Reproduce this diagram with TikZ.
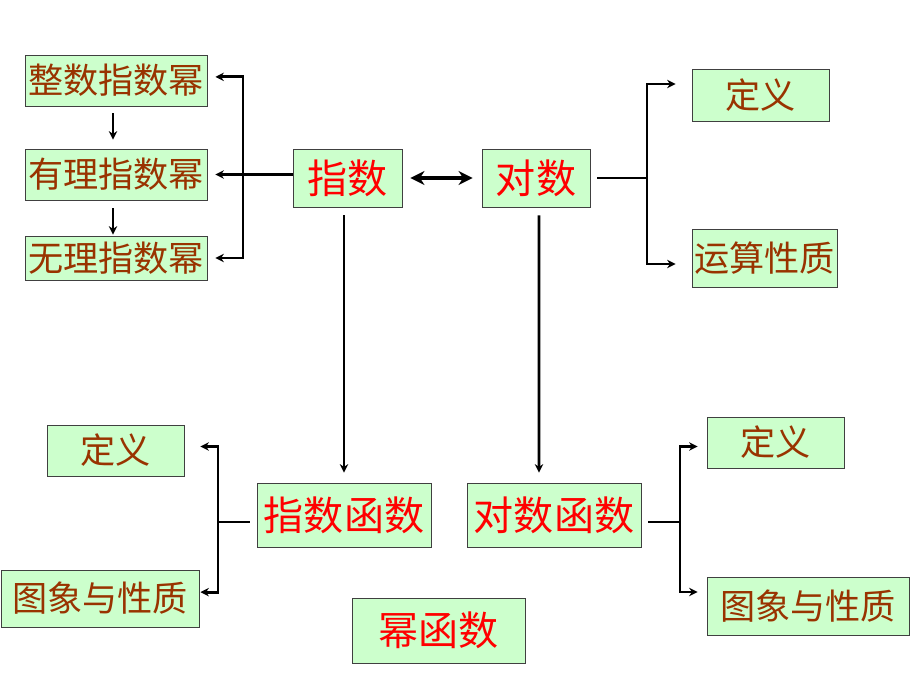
\documentclass[tikz,border=0pt]{standalone}
\usepackage{fontspec}
\usetikzlibrary{arrows.meta}
\newfontfamily\cjk{Noto Sans CJK SC}
\definecolor{boxgreen}{HTML}{CCFFCC}
\definecolor{textbrown}{HTML}{993300}
\tikzset{
  box/.style={draw=black!75, fill=boxgreen, inner sep=0pt, line width=0.6pt},
  bbox/.style={box, text=textbrown, font=\cjk\fontsize{25}{25}\selectfont},
  rbox/.style={box, text=red, font=\cjk\fontsize{28.5}{28.5}\selectfont},
  link/.style={line width=2pt},
  arr/.style={link, -{Stealth[length=6pt, width=6pt]}},
}
\begin{document}
\begin{tikzpicture}[x=0.025cm, y=-0.025cm]
\useasboundingbox (0,0) rectangle (920,690);

% Exponent powers on the left
\node[bbox, minimum width=4.55cm, minimum height=1.275cm] (zs1) at (116,80.5) {整数指数幂};
\node[bbox, minimum width=4.55cm, minimum height=1.275cm] (zs2) at (116,174.5) {有理指数幂};
\node[bbox, minimum width=4.55cm, minimum height=1.1cm] (zs3) at (116,258) {无理指数幂};

% Exponent and logarithm
\node[rbox, minimum width=2.725cm, minimum height=1.45cm] (zhishu) at (347.5,178) {指数};
\node[rbox, minimum width=2.7cm, minimum height=1.45cm] (duishu) at (536,178) {对数};

% Logarithm branches
\node[bbox, minimum width=3.425cm, minimum height=1.3cm] (dy1) at (760.5,95) {定义};
\node[bbox, minimum width=3.625cm, minimum height=1.45cm] (ys) at (764.5,258) {运算性质};

% The two functions
\node[rbox, minimum width=4.35cm, minimum height=1.6cm] (zsfun) at (344,515) {指数函数};
\node[rbox, minimum width=4.35cm, minimum height=1.6cm] (dsfun) at (554,515) {对数函数};
\node[rbox, minimum width=4.325cm, minimum height=1.625cm] (mfun) at (438.5,630.5) {幂函数};

% Branches of the exponential function
\node[bbox, minimum width=3.425cm, minimum height=1.275cm] (dyL) at (115.5,450.5) {定义};
\node[bbox, minimum width=4.95cm, minimum height=1.425cm] (txL) at (100,598.5) {图象与性质};

% Branches of the logarithmic function
\node[bbox, minimum width=3.425cm, minimum height=1.275cm] (dyR) at (775.5,442.5) {定义};
\node[bbox, minimum width=5.05cm, minimum height=1.45cm] (txR) at (808,606) {图象与性质};

% Down arrows between the powers
\draw[arr, shorten <=0.175cm, shorten >=0.225cm] ([xshift=-0.075cm]zs1.south) -- ([xshift=-0.075cm]zs2.north);
\draw[arr, shorten <=0.2cm, shorten >=0.025cm] ([xshift=-0.075cm]zs2.south) -- ([xshift=-0.075cm]zs3.north);

% Bracket from the exponent to the powers
\coordinate (jL) at (243,174.5);
\draw[arr, shorten >=0.2cm] (zhishu.west |- zs2.east) -- (zs2.east);
\draw[arr, shorten >=0.2cm] (jL) |- ([yshift=0.09cm]zs1.east);
\draw[arr, shorten >=0.2cm] (jL) |- (zs3.east);

% Exponent and logarithm are inverse
\draw[line width=3pt, {Stealth[length=10pt, width=10pt]}-{Stealth[length=10pt, width=10pt]}, shorten <=0.2cm, shorten >=0.225cm] (zhishu.east) -- (duishu.west);

% Bracket from the logarithm
\coordinate (jR) at (647,178);
\draw[link] ([xshift=0.175cm]duishu.east) -- (jR);
\draw[arr, shorten >=0.4cm] (jR) |- ([yshift=0.275cm]dy1.west);
\draw[arr, shorten >=0.4cm] (jR) |- ([yshift=-0.15cm]ys.west);

% Down to the functions
\draw[arr, shorten <=0.2cm, shorten >=0.25cm] (zsfun.north |- zhishu.south) -- (zsfun.north);
\draw[arr, shorten <=0.2cm, shorten >=0.25cm] ([xshift=0.075cm]duishu.south) -- ([xshift=-0.375cm]dsfun.north);

% Bracket from the exponential function
\coordinate (jBL) at (218,522);
\draw[link] ([xshift=-0.175cm]zsfun.west |- jBL) -- (jBL);
\draw[arr] (jBL) |- ([xshift=0.4cm, yshift=0.1cm]dyL.east);
\draw[arr] (jBL) |- ([xshift=0.025cm, yshift=0.16cm]txL.east);

% Bracket from the logarithmic function
\coordinate (jBR) at (680,522);
\draw[link] ([xshift=0.175cm]dsfun.east |- jBR) -- (jBR);
\draw[arr, shorten >=0.225cm] (jBR) |- ([yshift=-0.1cm]dyR.west);
\draw[arr, shorten >=0.225cm] (jBR) |- ([yshift=0.35cm]txR.west);

\end{tikzpicture}
\end{document}
